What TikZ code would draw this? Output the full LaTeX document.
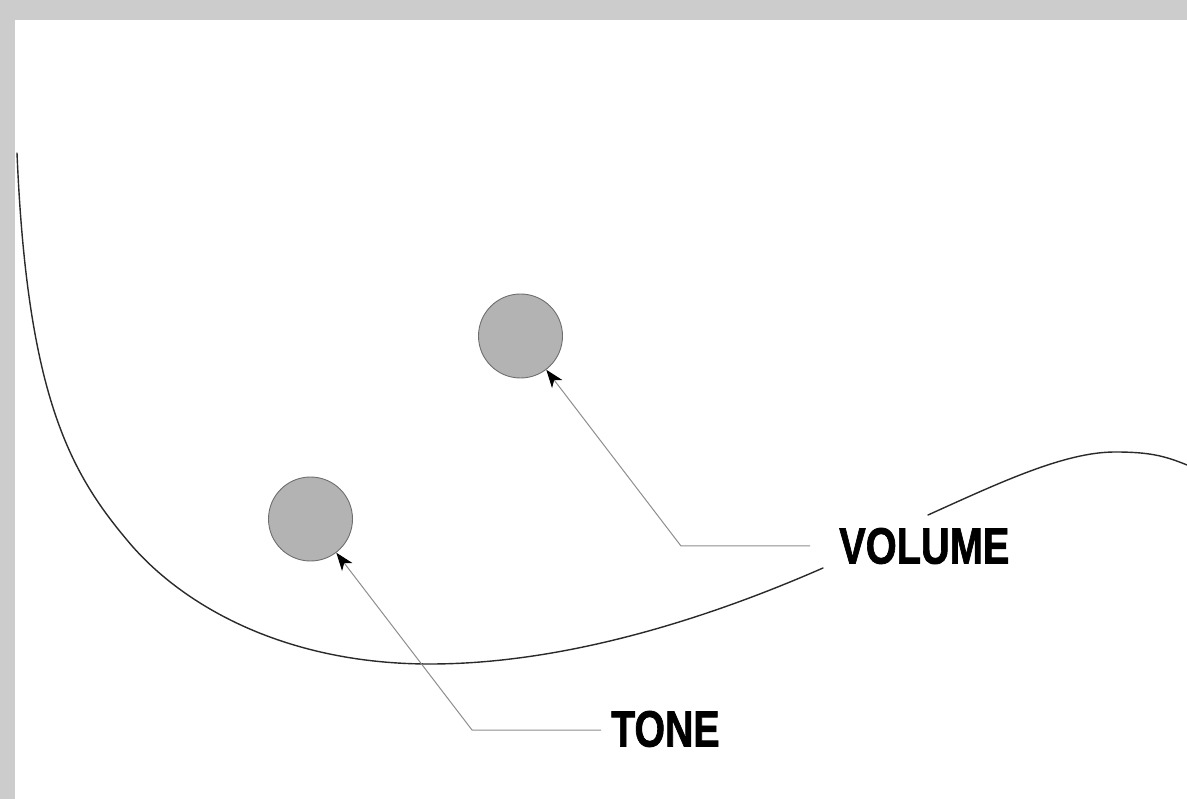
\documentclass[tikz,border=0pt]{standalone}
\usepackage{fontspec}
\setmainfont{Liberation Sans}
\newfontfamily\lblfont[FakeBold=1.6]{Liberation Sans Bold}
\usetikzlibrary{arrows.meta}
\definecolor{frame}{HTML}{CCCCCC}
\definecolor{knob}{HTML}{B3B3B3}
\definecolor{knobline}{HTML}{6E6E6E}
\definecolor{leadcol}{HTML}{8E8E8E}
\definecolor{bodyline}{HTML}{2A2A2A}
\tikzset{
  knobnode/.style={circle, draw=knobline, fill=knob, line width=0.9pt, minimum size=84pt, inner sep=0pt},
  leader/.style={draw=leadcol, line width=1pt, -{Stealth[black, length=18pt, width=13pt, inset=5pt]}},
  body/.style={draw=bodyline, line width=1.4pt, line cap=round},
  lbl/.style={anchor=west, inner ysep=0pt, font=\lblfont\fontsize{51}{51}\selectfont, text=black}
}
\begin{document}
\begin{tikzpicture}[x=1pt, y=-1pt]
\useasboundingbox (0,0) rectangle (1187,799);
\fill[frame] (0,0) rectangle (1187,799);
\fill[white] (15,20) rectangle (1187,799);
% body outline
\draw[body] (17,153) .. controls (27,393) and (69,471) .. (127,540)
  .. controls (178,602) and (280,664) .. (430,664)
  .. controls (550,664) and (686,628) .. (823,568);
\draw[body] (928,515) .. controls (1001,482) and (1065,452) .. (1115,452)
  .. controls (1150,452) and (1165,456) .. (1187,465);
% knobs
\node[knobnode] (vol) at (520.5,336) {};
\node[knobnode] (tone) at (310.5,519) {};
% labels
\node[lbl, inner xsep=29pt] (voltxt) at (810,546) {\scalebox{0.78}[1]{VOLUME}};
\node[lbl, inner xsep=10pt] (tonetxt) at (601,729) {\scalebox{0.77}[1]{TONE}};
% leaders
\coordinate (vcorner) at (681,546);
\coordinate (tcorner) at (472,730);
\draw[leader] (voltxt.west) -- (vcorner) -- (vol);
\draw[leader] (tonetxt.west |- tcorner) -- (tcorner) -- (tone);
\end{tikzpicture}
\end{document}
